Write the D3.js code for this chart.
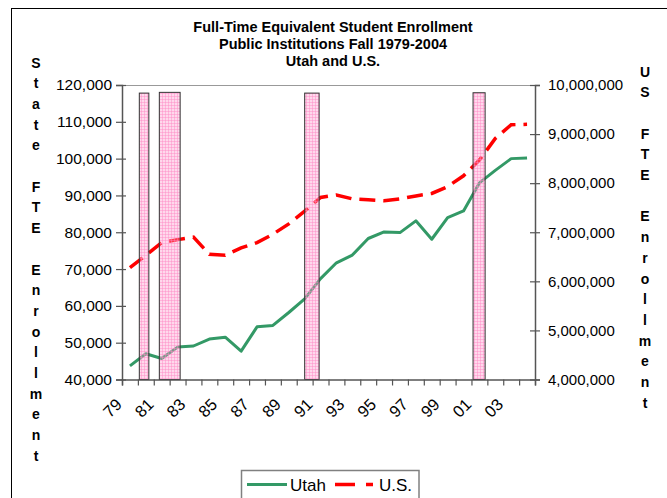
<!DOCTYPE html>
<html>
<head>
<meta charset="utf-8">
<script src="https://cdn.jsdelivr.net/npm/d3@7"></script>
<style>
  body { margin: 0; background: #fff; }
  text { font-family: "Liberation Sans", Arial, sans-serif; fill: #000; }
</style>
</head>
<body>
<svg id="chart" width="667" height="498"></svg>
<script>
// Fall enrollment years (two-digit labels), 1979-2004
const years = ["79","80","81","82","83","84","85","86","87","88","89","90","91",
               "92","93","94","95","96","97","98","99","00","01","02","03","04"];
const firstYear = 1979;

// Utah public institutions FTE (left axis)
const utahFTE = [43700, 47000, 45700, 48800, 49100, 51000, 51500, 47700, 54300,
                 54700, 58200, 61900, 67400, 71700, 73800, 78300, 80100, 79900,
                 83100, 78100, 84000, 85800, 93400, 96800, 100000, 100200];

// U.S. public institutions FTE (right axis)
const usFTE = [6280000, 6530000, 6790000, 6850000, 6900000, 6550000, 6530000,
               6680000, 6790000, 6960000, 7170000, 7430000, 7710000, 7760000,
               7680000, 7660000, 7640000, 7680000, 7740000, 7790000, 7930000,
               8150000, 8470000, 8910000, 9190000, 9200000];

// Recession periods (fractional years) shown as shaded columns
const recessionStart = [1980.09, 1981.35, 1990.50, 2001.10];
const recessionEnd   = [1980.69, 1982.66, 1991.41, 2001.86];
const recessionTop   = [117800, 118000, 117800, 117900];

const leftTicks  = [40000, 50000, 60000, 70000, 80000, 90000, 100000, 110000, 120000];
const rightTicks = [4000000, 5000000, 6000000, 7000000, 8000000, 9000000, 10000000];
const xLabelYears = years.filter((d, i) => i % 2 === 0);

const titleLines = ["Full-Time Equivalent Student Enrollment",
                    "Public Institutions Fall 1979-2004",
                    "Utah and U.S."];
const leftTitle  = "State FTE Enrollment";
const rightTitle = "US FTE Enrollment";
const seriesNames = ["Utah", "U.S."];

const svg = d3.select("#chart");
const plot = { left: 122, right: 535, top: 85, bottom: 379.5 };

const x = d3.scaleBand().domain(years).range([plot.left, plot.right]).padding(0);
const xt = d3.scaleLinear().domain([firstYear, firstYear + years.length]).range([plot.left, plot.right]);
const yL = d3.scaleLinear().domain([40000, 120000]).range([plot.bottom, plot.top]);
const yR = d3.scaleLinear().domain([4000000, 10000000]).range([plot.bottom, plot.top]);
const fmt = d3.format(",");

// Chart area frame
svg.append("rect")
  .attr("x", 11.5).attr("y", 8.5).attr("width", 700).attr("height", 600)
  .attr("fill", "none").attr("stroke", "#000").attr("stroke-width", 1);

// Hatched pink fill for recession columns
const defs = svg.append("defs");
const pat = defs.append("pattern")
  .attr("id", "pinkGrid").attr("patternUnits", "userSpaceOnUse")
  .attr("width", 3).attr("height", 3);
pat.append("rect").attr("width", 3).attr("height", 3).attr("fill", "#ff99cc").attr("fill-opacity", 0.38);
pat.append("rect").attr("width", 3).attr("height", 1).attr("fill", "#ff88c4").attr("fill-opacity", 0.45);
pat.append("rect").attr("width", 1).attr("height", 3).attr("fill", "#ff88c4").attr("fill-opacity", 0.45);

// Plot area top border
svg.append("line")
  .attr("x1", plot.left).attr("x2", plot.right)
  .attr("y1", plot.top + 0.5).attr("y2", plot.top + 0.5)
  .attr("stroke", "#999").attr("stroke-width", 1);

// Title
svg.append("g").selectAll("text").data(titleLines).join("text")
  .attr("x", 333).attr("y", (d, i) => 31.5 + i * 17)
  .attr("text-anchor", "middle")
  .attr("font-size", "14.5px").attr("font-weight", "bold")
  .text(d => d);

// Vertical stacked axis titles
function stackedTitle(str, cx, y0) {
  svg.append("g").selectAll("text").data(str.split("")).join("text")
    .attr("x", cx).attr("y", (d, i) => y0 + i * 20.7)
    .attr("text-anchor", "middle").attr("dy", "0.36em")
    .attr("font-size", "14px").attr("font-weight", "bold")
    .text(d => d === " " ? "" : d);
}
stackedTitle(leftTitle, 36, 62.5);
stackedTitle(rightTitle, 645, 71.5);

// Lines
const utahLine = d3.line()
  .x((d, i) => x(years[i]) + x.bandwidth() / 2)
  .y(d => yL(d));
const usLine = d3.line()
  .x((d, i) => x(years[i]) + x.bandwidth() / 2)
  .y(d => yR(d));

svg.append("path").datum(utahFTE)
  .attr("d", utahLine).attr("fill", "none")
  .attr("stroke", "#339966").attr("stroke-width", 3).attr("stroke-linejoin", "round");

svg.append("path").datum(usFTE)
  .attr("d", usLine).attr("fill", "none")
  .attr("stroke", "#ff0000").attr("stroke-width", 3.5)
  .attr("stroke-dasharray", "16,8");

// Recession columns drawn over the lines
svg.append("g").selectAll("rect").data(recessionStart).join("rect")
  .attr("x", (d) => xt(d))
  .attr("width", (d, i) => xt(recessionEnd[i]) - xt(d))
  .attr("y", (d, i) => yL(recessionTop[i]))
  .attr("height", (d, i) => plot.bottom - yL(recessionTop[i]))
  .attr("fill", "url(#pinkGrid)")
  .attr("stroke", "#333").attr("stroke-width", 1);

// Left axis (ticks cross the axis line)
const gL = svg.append("g").attr("transform", `translate(${plot.left},0)`)
  .call(d3.axisLeft(yL).tickValues(leftTicks).tickFormat(fmt).tickSizeOuter(0).tickSize(6).tickPadding(4));
gL.selectAll(".tick line").attr("x1", 4);
gL.selectAll("text").attr("font-size", "15.5px").attr("font-family", "Liberation Sans, Arial, sans-serif");

// Right axis
const gR = svg.append("g").attr("transform", `translate(${plot.right},0)`)
  .call(d3.axisRight(yR).tickValues(rightTicks).tickFormat(fmt).tickSizeOuter(0).tickSize(5).tickPadding(8));
gR.selectAll(".tick line").attr("x1", -5);
gR.selectAll("text").attr("font-size", "15px").attr("font-family", "Liberation Sans, Arial, sans-serif");

// Bottom axis: tick marks at category boundaries
const boundaries = d3.range(firstYear, firstYear + years.length + 1);
const gB = svg.append("g").attr("transform", `translate(0,${plot.bottom})`)
  .call(d3.axisBottom(xt).tickValues(boundaries).tickFormat("").tickSizeOuter(0).tickSize(6));

[gL, gR, gB].forEach(g => {
  g.select(".domain").attr("stroke", "#555").attr("stroke-width", 1.5);
  g.selectAll(".tick line").attr("stroke", "#555").attr("stroke-width", 1.2);
});

// Rotated category labels, every other year
svg.append("g").selectAll("text").data(xLabelYears).join("text")
  .attr("transform", d => `translate(${x(d) + x.bandwidth() / 2 - 11},${plot.bottom + 22}) rotate(-45)`)
  .attr("text-anchor", "end").attr("dy", "0.35em")
  .attr("font-size", "16.5px")
  .text(d => d);

// Legend
const lg = svg.append("g");
lg.append("rect")
  .attr("x", 241.5).attr("y", 470.5).attr("width", 177.5).attr("height", 40)
  .attr("fill", "#fff").attr("stroke", "#808080").attr("stroke-width", 1.5);
lg.append("line").attr("x1", 247).attr("x2", 287).attr("y1", 484.5).attr("y2", 484.5)
  .attr("stroke", "#339966").attr("stroke-width", 3);
lg.append("text").attr("x", 290).attr("y", 484.5).attr("dy", "0.36em")
  .attr("font-size", "17px").text(seriesNames[0]);
lg.append("line").attr("x1", 335).attr("x2", 373).attr("y1", 484.5).attr("y2", 484.5)
  .attr("stroke", "#ff0000").attr("stroke-width", 3.5).attr("stroke-dasharray", "20,11");
lg.append("text").attr("x", 379).attr("y", 484.5).attr("dy", "0.36em")
  .attr("font-size", "17px").text(seriesNames[1]);
</script>
</body>
</html>
